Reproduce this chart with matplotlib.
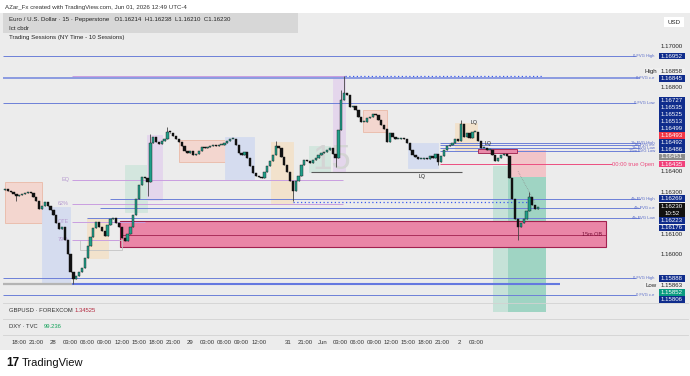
import numpy as np
import matplotlib as mpl
import matplotlib.pyplot as plt
from matplotlib.patches import Rectangle
from matplotlib.transforms import blended_transform_factory

mpl.rcParams.update({"font.family": ["Liberation Sans", "DejaVu Sans"], "font.size": 4.5})

W, H = 690, 376
BG = "#ececec"

# ---------------------------------------------------------------- data
# 30-minute closes (EURUSD), placed on a 15-minute bar index
closes = [
    1.16317, 1.16307, 1.16302, 1.16293, 1.16283, 1.16288, 1.16293, 1.16298, 1.16302, 1.16298,
    1.16278, 1.16258, 1.16219, 1.16234, 1.16254, 1.16234, 1.16215, 1.16190, 1.16151, 1.16122,
    1.16132, 1.16073, 1.16005, 1.15917, 1.15883, 1.15897, 1.15917, 1.15936, 1.15985, 1.16044,
    1.16088, 1.16127, 1.16156, 1.16136, 1.16117, 1.16093, 1.16141, 1.16171, 1.16176, 1.16151,
    1.16132, 1.16083, 1.16068, 1.16102, 1.16136, 1.16190, 1.16268, 1.16337, 1.16371, 1.16366,
    1.16351, 1.16537, 1.16566, 1.16542, 1.16532, 1.16546, 1.16556, 1.16588, 1.16585, 1.16571,
    1.16556, 1.16542, 1.16522, 1.16498, 1.16488, 1.16498, 1.16478, 1.16483, 1.16498, 1.16517,
    1.16512, 1.16517, 1.16522, 1.16527, 1.16522, 1.16527, 1.16527, 1.16537, 1.16546, 1.16556,
    1.16556, 1.16527, 1.16488, 1.16478, 1.16493, 1.16463, 1.16424, 1.16390, 1.16380, 1.16371,
    1.16366, 1.16395, 1.16424, 1.16449, 1.16478, 1.16522, 1.16512, 1.16468, 1.16429, 1.16395,
    1.16356, 1.16307, 1.16356, 1.16380, 1.16429, 1.16454, 1.16449, 1.16439, 1.16454, 1.16463,
    1.16478, 1.16488, 1.16493, 1.16502, 1.16512, 1.16483, 1.16463, 1.16598, 1.16742, 1.16775,
    1.16766, 1.16708, 1.16713, 1.16694, 1.16660, 1.16636, 1.16636, 1.16656, 1.16660, 1.16675,
    1.16670, 1.16646, 1.16622, 1.16603, 1.16542, 1.16585, 1.16566, 1.16556, 1.16556, 1.16561,
    1.16556, 1.16537, 1.16502, 1.16478, 1.16468, 1.16459, 1.16459, 1.16463, 1.16459, 1.16473,
    1.16463, 1.16483, 1.16444, 1.16473, 1.16502, 1.16522, 1.16527, 1.16537, 1.16556, 1.16546,
    1.16627, 1.16566, 1.16585, 1.16561, 1.16588, 1.16588, 1.16546, 1.16512, 1.16512, 1.16502,
    1.16502, 1.16478, 1.16449, 1.16463, 1.16478, 1.16483, 1.16473, 1.16366, 1.16268, 1.16171,
    1.16136, 1.16151, 1.16171, 1.16210, 1.16278, 1.16239, 1.16219, 1.16230,
]
first_open = 1.16312
wick_high = {51: 1.16580, 57: 1.16610, 95: 1.16546, 118: 1.16789, 119: 1.16858,
             160: 1.16646, 184: 1.16300}
wick_low = {4: 1.16258, 24: 1.15863, 50: 1.16283, 101: 1.16258, 116: 1.16420,
            152: 1.16429, 180: 1.16073}
last_price = 1.16230

tick_bars = [10, 22, 34, 46, 58, 70, 82, 94, 106, 118, 130, 142, 154, 166, 178,
             199, 211, 223, 235, 247, 259, 271, 283, 295, 307, 319, 331]
tick_labels = ["18:00", "21:00", "28", "03:00", "06:00", "09:00", "12:00", "15:00", "18:00",
               "21:00", "29", "03:00", "06:00", "09:00", "12:00", "31", "21:00", "Jun",
               "03:00", "06:00", "09:00", "12:00", "15:00", "18:00", "21:00", "2", "03:00"]

# trading session boxes: start bar, end bar, low, high, kind
sess_start = [0, 26, 57.5, 84.2, 99.6, 122, 154.4, 186.7, 213, 230.2, 251, 283, 316]
sess_end = [26, 45.6, 72.3, 99.6, 110.2, 155, 174.7, 202.1, 228, 238.6, 268, 304, 331]
sess_low = [1.16153, 1.15871, 1.15986, 1.16206, 1.16263, 1.16445, 1.16364, 1.16249,
            1.16397, 1.16397, 1.16589, 1.16416, 1.16502]
sess_high = [1.16349, 1.16230, 1.16177, 1.16431, 1.16574, 1.16550, 1.16565, 1.16541,
             1.16522, 1.16856, 1.16694, 1.16536, 1.16632]
sess_kind = ["ny", "asia", "lon", "pre", "post", "ny", "asia", "lon", "pre", "post",
             "ny", "asia", "lon"]

# horizontal levels: price, start bar, end bar, kind, right-hand label
lvl_price = [1.16952, 1.16858, 1.16858, 1.16845, 1.16727, 1.16535, 1.16525, 1.16513,
             1.16499, 1.16435, 1.16397, 1.16359, 1.16244, 1.16254, 1.16269, 1.16223,
             1.16176, 1.16158, 1.16072, 1.15888, 1.15863, 1.15863, 1.15806]
lvl_x0 = [-1.4, 47, 238.6, -1.4, -1.4, 305, 305, 305, 305, 305, 215, 47, 47, 202,
          73.7, 66.7, 57.5, 47, 47, -1.4, -1.4, 47, -1.4]
lvl_x1 = [442.8, 238.6, 376.8, 445.6, 442.8, 445.6, 445.6, 445.6, 445.6, 426, 320.7,
          237, 237, 370, 445.6, 445.6, 445.6, 98, 80, 442.8, 47, 389.5, 442.8]
lvl_kind = ["fvg", "pur", "dot", "fvg2", "fvg", "fvg", "fvg", "fvg", "fvg", "open", "lq",
            "pur", "pur", "dot", "fvg", "fvg", "fvg", "pur", "pur", "fvg", "grey", "low", "fvg"]
lvl_text = ["0 FVG High", "", "", "0 FVG c.e", "0 FVG Low", "1h FVG High", "1h FVG c.e",
            "1h FVG Low", "15m FVG Low", "00:00 true Open", "", "", "", "", "4h FVG High",
            "4h FVG c.e", "4h FVG Low", "", "", "0 FVG High", "", "", "0 FVG c.e"]

fib_text = ["EQ", "62%", "OTE", "79%"]
fib_price = [1.16359, 1.16244, 1.16158, 1.16072]

# price-axis badges: price, fill colour
badge_price = [1.16952, 1.16858, 1.16845, 1.16727, 1.16535, 1.16525, 1.16513, 1.16499,
               1.16493, 1.16492, 1.16486, 1.16451, 1.16435, 1.16269, 1.16223, 1.16176,
               1.15888, 1.15863, 1.15852, 1.15806]
badge_fill = ["#0f2c8c", "#efefef", "#0f2c8c", "#0f2c8c", "#0f2c8c", "#0f2c8c", "#0f2c8c",
              "#0f2c8c", "#f23645", "#0f2c8c", "#0f2c8c", "#8d8d8d", "#f0407a", "#0f2c8c",
              "#0f2c8c", "#0f2c8c", "#0f2c8c", "#efefef", "#0a9b80", "#0f2c8c"]
badge_side = {1.16858: "High", 1.15863: "Low"}

COL = {"fvg": "#6d80d8", "fvg2": "#8b9ae0", "pur": "#c99ee0", "dot": "#3b5bf0",
       "open": "#ec4f80", "lq": "#5a5a5a", "grey": "#b4b4b4", "low": "#6478e0"}
SESS_FC = {"ny": "#f3d6cf", "asia": "#d5dcef", "lon": "#f2e2cc", "pre": "#d3e6de",
           "post": "#e4d6ec"}
SESS_EC = {"ny": "#eab9a7", "asia": "#d5dcef", "lon": "#f2e2cc", "pre": "#d3e6de",
           "post": "#e4d6ec"}

# ---------------------------------------------------------------- figure
fig = plt.figure(figsize=(W / 100, H / 100), dpi=100)
fig.patch.set_facecolor("white")


def frect(x0, y0, x1, y1, **kw):
    """rectangle in image pixel coordinates (y down)"""
    fig.add_artist(Rectangle((x0 / W, 1 - y1 / H), (x1 - x0) / W, (y1 - y0) / H,
                             transform=fig.transFigure, **kw))


def ftext(x, y, s, **kw):
    fig.text(x / W, 1 - y / H, s, **kw)


frect(0, 13, W, 350, fc=BG, ec="none", zorder=0)
frect(3, 13, 298, 33, fc="#d7d7d7", ec="none", zorder=1)

ax = fig.add_axes([3 / W, 1 - 303 / H, 654 / W, 290 / H])
ax.set_facecolor("none")
ax.set_xlim(-1.4, 457.5)
ax.set_ylim(1.15770, 1.17158)
ax.set_axis_off()

# sessions
for s0, s1, lo, hi, kd in zip(sess_start, sess_end, sess_low, sess_high, sess_kind):
    ax.add_patch(Rectangle((s0, lo), s1 - s0, hi - lo, fc=SESS_FC[kd], ec=SESS_EC[kd],
                           lw=0.6, zorder=1))

# chart watermark (interval)
ax.text(229, 1.16455, "15", fontsize=25, color="#d4d4d4", ha="center", va="center",
        zorder=1.5)

# position tool
ax.add_patch(Rectangle((342.5, 1.15727), 37.1, 1.16426 - 1.15727, fc="#c6e2d8", ec="none",
                       zorder=1.2, clip_on=False))
ax.add_patch(Rectangle((353, 1.15727), 26.6, 1.16373 - 1.15727, fc="#9fd4c3", ec="none",
                       zorder=1.3, clip_on=False))
ax.add_patch(Rectangle((353, 1.16373), 26.6, 1.16502 - 1.16373, fc="#f2c4c8", ec="none",
                       zorder=1.3))
ax.plot([360, 372], [1.16400, 1.16250], color="#888888", lw=0.5, ls=(0, (1, 1.5)), zorder=2)

# order block zone
ax.add_patch(Rectangle((80.7, 1.16038), 421.8 - 80.7, 1.16163 - 1.16038, fc="#ea86a7",
                       ec="#a2214f", lw=0.8, zorder=2))
ax.plot([80.7, 421.8], [1.16096, 1.16096], color="#a2214f", lw=0.6, zorder=2)
ax.text(419, 1.16096, "15m OB", fontsize=4, color="#7a1038", ha="right", va="center",
        zorder=3)
ax.add_patch(Rectangle((52.6, 1.16024), 29.4, 1.16072 - 1.16024, fc="none", ec="#c4c4c4",
                       lw=0.6, zorder=2))
ax.add_patch(Rectangle((331.9, 1.16488), 27.4, 1.16507 - 1.16488, fc="#e98aa9",
                       ec="#9c1c4a", lw=0.6, zorder=3))

# levels
for p, x0, x1, kd, t in zip(lvl_price, lvl_x0, lvl_x1, lvl_kind, lvl_text):
    ls = (0, (1, 2)) if kd == "dot" else "-"
    lw = {"fvg2": 1.4, "grey": 1.6, "low": 1.5, "dot": 0.9, "lq": 0.8}.get(kd, 0.7)
    ax.plot([x0, x1], [p, p], color=COL[kd], lw=lw, ls=ls, zorder=2.5,
            solid_capstyle="butt")
    if t:
        ax.text(456, p, t, fontsize=3.0 if kd != "open" else 4.2,
                color=COL["open"] if kd == "open" else "#5467c8", ha="right",
                va="center", zorder=3)

for t, p in zip(fib_text, fib_price):
    ax.text(45, p, t, fontsize=4, color="#b69ad0", ha="right", va="center", zorder=3)

for t, bx, p in zip(["LQ", "LQ", "LQ"], [293, 329, 339], [1.16375, 1.16632, 1.16534]):
    ax.text(bx, p, t, fontsize=3.8, color="#222222", ha="center", va="center", zorder=6)

# candles
c = np.array(closes)
o = np.r_[first_open, c[:-1]]
hi = np.maximum(o, c)
lo = np.minimum(o, c)
for k, v in wick_high.items():
    hi[k] = v
for k, v in wick_low.items():
    lo[k] = v
xs = np.arange(len(c)) * 2
up = c >= o
body = np.where(np.abs(c - o) < 0.00003, 0.00003, c - o)
ax.vlines(xs, lo, hi, color="#444444", lw=0.6, zorder=4)
ax.bar(xs[up], body[up], bottom=o[up], width=1.6, color="#1f9e88", edgecolor="#1a1a1a",
       lw=0.3, zorder=5)
ax.bar(xs[~up], body[~up], bottom=o[~up], width=1.6, color="#111111", edgecolor="#111111",
       lw=0.3, zorder=5)

# ---------------------------------------------------------------- price axis
def ypix(p):
    return H - ax.transData.transform((0, p))[1]


step = 7.1
cur_y = ypix(last_price)
placed = []
above = sorted([i for i, p in enumerate(badge_price) if p > last_price],
               key=lambda i: badge_price[i])
prev = cur_y - 7.2 + step
for i in above:
    y = min(ypix(badge_price[i]), prev - step)
    placed.append((i, y))
    prev = y
below = sorted([i for i, p in enumerate(badge_price) if p < last_price],
               key=lambda i: -badge_price[i])
prev = cur_y + 14 - step
for i in below:
    y = max(ypix(badge_price[i]), prev + step)
    placed.append((i, y))
    prev = y

# grid price labels, hidden where a badge sits
blockers = [y for _, y in placed] + [cur_y, cur_y + 5, 22]
for p in np.arange(1.158, 1.1715, 0.001):
    y = ypix(p)
    if y < 15 or y > 300 or min(abs(y - b) for b in blockers) < 4.5:
        continue
    ftext(672, y, f"{p:.5f}", fontsize=4.4, color="#222222", ha="center", va="center")

for i, y in placed:
    p = badge_price[i]
    fc = badge_fill[i]
    tc = "#222222" if fc == "#efefef" else "white"
    frect(659, y - 3.4, 685, y + 3.4, fc=fc, ec="none", zorder=3)
    ftext(672, y, f"{p:.5f}", fontsize=4.4, color=tc, ha="center", va="center", zorder=4)
    if p in badge_side:
        frect(644, y - 3.4, 659, y + 3.4, fc="#efefef", ec="none", zorder=3)
        ftext(657, y, badge_side[p], fontsize=4.4, color="#222222", ha="right",
              va="center", zorder=4)

frect(659, cur_y - 3.6, 685, cur_y + 10.6, fc="#111111", ec="none", zorder=3)
ftext(672, cur_y, f"{last_price:.5f}", fontsize=4.4, color="white", ha="center",
      va="center", zorder=4)
ftext(672, cur_y + 6.4, "10:52", fontsize=4.4, color="white", ha="center", va="center",
      zorder=4)
frect(664, 17, 684, 27, fc="white", ec="none", zorder=3)
ftext(674, 22, "USD", fontsize=4.4, color="#222222", ha="center", va="center", zorder=4)

# ---------------------------------------------------------------- panes and axes
for yy in (303, 319, 335):
    fig.add_artist(plt.Line2D([3 / W, 688 / W], [1 - yy / H] * 2, color="#d2d2d2", lw=0.6))

ftext(9, 311, "GBPUSD · FOREXCOM", fontsize=4.2, color="#333333", va="center")
ftext(75, 311, "1.34525", fontsize=4.2, color="#b3283e", va="center")
ftext(9, 327, "DXY · TVC", fontsize=4.2, color="#333333", va="center")
ftext(44, 327, "99.236", fontsize=4.2, color="#13a35a", va="center")

tx = blended_transform_factory(ax.transData, fig.transFigure)
for b, t in zip(tick_bars, tick_labels):
    ax.text(b, 1 - 342.5 / H, t, transform=tx, fontsize=4.3, color="#333333",
            ha="center", va="center", clip_on=False)

# header texts
ftext(5, 7, "AZar_Fx created with TradingView.com, Jun 01, 2026 12:49 UTC-4",
      fontsize=4.4, color="#333333", va="center")
ftext(9, 20, "Euro / U.S. Dollar · 15 · Pepperstone   O1.16214  H1.16238  L1.16210  C1.16230",
      fontsize=4.4, color="#222222", va="center", zorder=4)
ftext(9, 28.5, "Ict cbdr", fontsize=4.4, color="#222222", va="center", zorder=4)
ftext(9, 38, "Trading Sessions (NY Time - 10 Sessions)", fontsize=4.4, color="#222222",
      va="center", zorder=4)

ftext(6, 363, "17", fontsize=8.5, fontweight="heavy", color="#111111", va="center")
ftext(22, 363, "TradingView", fontsize=8, color="#111111", va="center")

fig.savefig("out.png", dpi=100, facecolor="white")
